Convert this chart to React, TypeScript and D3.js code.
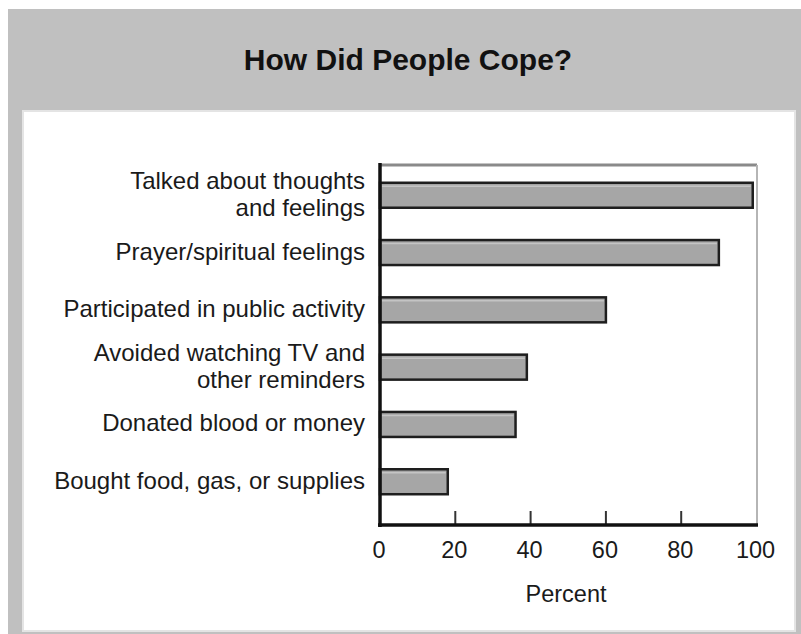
import React from "react";
import * as d3 from "d3";

const title = "How Did People Cope?";
const categories = [
  "Talked about thoughts\nand feelings",
  "Prayer/spiritual feelings",
  "Participated in public activity",
  "Avoided watching TV and\nother reminders",
  "Donated blood or money",
  "Bought food, gas, or supplies",
];
const percents = [99, 90, 60, 39, 36, 18];
const xTicks = [0, 20, 40, 60, 80, 100];
const xLabel = "Percent";

const W = 801;
const H = 634;
const plot = { left: 380, right: 757, top: 165, bottom: 525 };
const font = "'Liberation Sans', Arial, Helvetica, sans-serif";

const App = () => {
  const x = d3.scaleLinear().domain([0, 100]).range([plot.left, plot.right - 0.5]);
  const y = d3
    .scaleBand()
    .domain(categories)
    .range([166.6, 510.4])
    .paddingInner(0.564)
    .paddingOuter(0.282);
  const bw = y.bandwidth();

  return (
    <svg
      width={W}
      height={H}
      style={{ position: "absolute", left: 0, top: 0, display: "block" }}
    >
      <rect x={0} y={0} width={W} height={H} fill="#ffffff" />
      {/* outer gray panel */}
      <rect x={8} y={9} width={W - 8} height={H - 9} fill="#c0c0c0" />
      {/* inner white panel */}
      <rect x={23} y={111} width={772} height={520} fill="#ffffff" stroke="#e4e4e4" strokeWidth={2} />

      <text
        x={408}
        y={70}
        textAnchor="middle"
        fontFamily={font}
        fontWeight="bold"
        fontSize={30}
        fill="#111"
      >
        {title}
      </text>

      {/* plot frame */}
      <line x1={plot.left} x2={plot.right} y1={plot.top} y2={plot.top} stroke="#8a8a8a" strokeWidth={3} />
      <line x1={plot.right} x2={plot.right} y1={plot.top} y2={plot.bottom} stroke="#b5b5b5" strokeWidth={2} />

      {/* ticks (drawn upward from the axis) */}
      {xTicks
        .filter((t) => t > 0 && t < 100)
        .map((t) => (
          <line
            key={t}
            x1={x(t)}
            x2={x(t)}
            y1={plot.bottom}
            y2={plot.bottom - 14}
            stroke="#333"
            strokeWidth={2}
          />
        ))}

      {/* bars */}
      {categories.map((c, i) => {
        const y0 = y(c) as number;
        const x1 = x(percents[i]);
        return (
          <g key={c}>
            <rect
              x={plot.left}
              y={y0}
              width={x1 - plot.left}
              height={bw}
              fill="#a6a6a6"
              stroke="#1e1e1e"
              strokeWidth={2.5}
            />
            <line
              x1={plot.left + 2}
              x2={x1 - 2}
              y1={y0 + 3.5}
              y2={y0 + 3.5}
              stroke="#c4c4c4"
              strokeWidth={1.5}
            />
          </g>
        );
      })}

      {/* axes */}
      <line x1={plot.left} x2={plot.left} y1={plot.top - 2} y2={plot.bottom + 2} stroke="#111" strokeWidth={3.5} />
      <line x1={plot.left - 2} x2={plot.right + 1} y1={plot.bottom} y2={plot.bottom} stroke="#111" strokeWidth={3.5} />

      {/* category labels */}
      {categories.map((c) => {
        const cy = (y(c) as number) + bw / 2;
        const lines = c.split("\n");
        return (
          <text
            key={c}
            textAnchor="end"
            fontFamily={font}
            fontSize={24}
            fill="#1a1a1a"
          >
            {lines.map((ln, k) => (
              <tspan
                key={k}
                x={365}
                y={cy + 7 + (k - (lines.length - 1) / 2) * 27}
              >
                {ln}
              </tspan>
            ))}
          </text>
        );
      })}

      {/* tick labels */}
      {xTicks.map((t) => (
        <text
          key={t}
          x={x(t) - 1}
          y={558}
          textAnchor="middle"
          fontFamily={font}
          fontSize={23.5}
          fill="#1a1a1a"
        >
          {t}
        </text>
      ))}

      <text
        x={566}
        y={602}
        textAnchor="middle"
        fontFamily={font}
        fontSize={23.5}
        fill="#1a1a1a"
      >
        {xLabel}
      </text>
    </svg>
  );
};

export default App;
